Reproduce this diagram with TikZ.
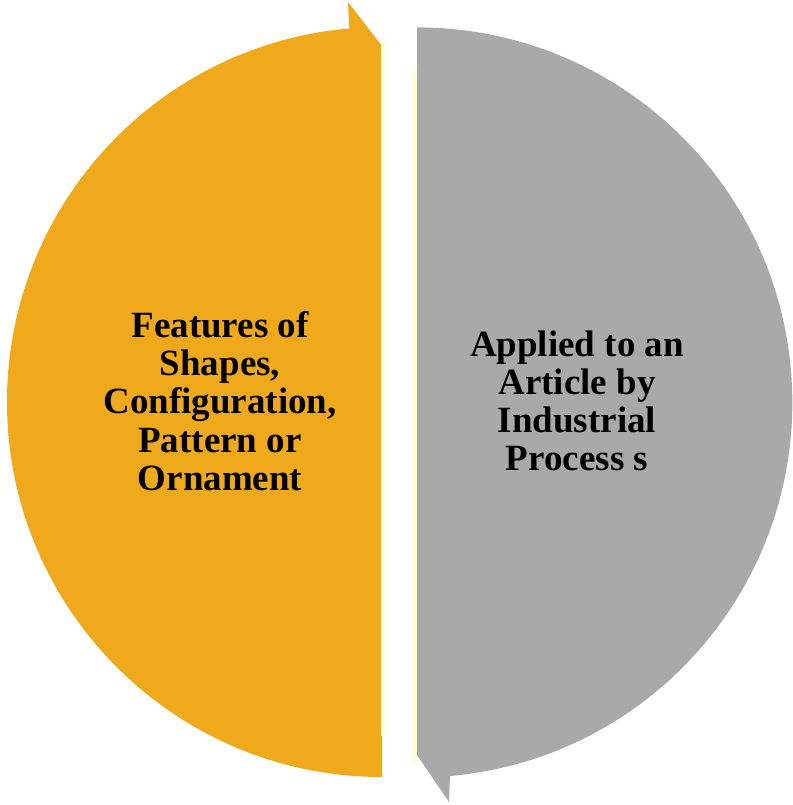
\documentclass[tikz,border=0pt]{standalone}
\usepackage{fontspec}
\setmainfont{Liberation Serif}
\usepackage{tikz}
\usetikzlibrary{positioning}

\definecolor{halforange}{RGB}{240,169,27}
\definecolor{halfgray}{RGB}{169,169,169}
\definecolor{glow}{RGB}{255,255,208}

\begin{document}
\begin{tikzpicture}[x=1pt,y=-1pt,
    halftext/.style={align=center,font=\bfseries\fontsize{37}{38.2}\selectfont,inner sep=0pt}]

  \useasboundingbox (0,0) rectangle (792,805);

  % two halves of the circle, each with its arrow tip
  \fill[halforange] (382,777) arc[start angle=90, end angle=265, radius=375]
    -- (348,2) -- (382,46) -- cycle;
  \fill[halfgray] (417,27) -- (417,755) -- (449,802) -- (450,776)
    arc[start angle=85, end angle=-90, radius=375] -- cycle;

  % pale edges along the gap
  \fill[glow] (381,42) rectangle (385,736);
  \fill[glow] (413,67) rectangle (417,762);

  \node[halftext] (features) at (220,401) {Features of\\Shapes,\\Configuration,\\Pattern or\\Ornament};
  \node[halftext] (applied) at (577,401) {Applied to an\\Article by\\Industrial\\Process s};

\end{tikzpicture}
\end{document}
